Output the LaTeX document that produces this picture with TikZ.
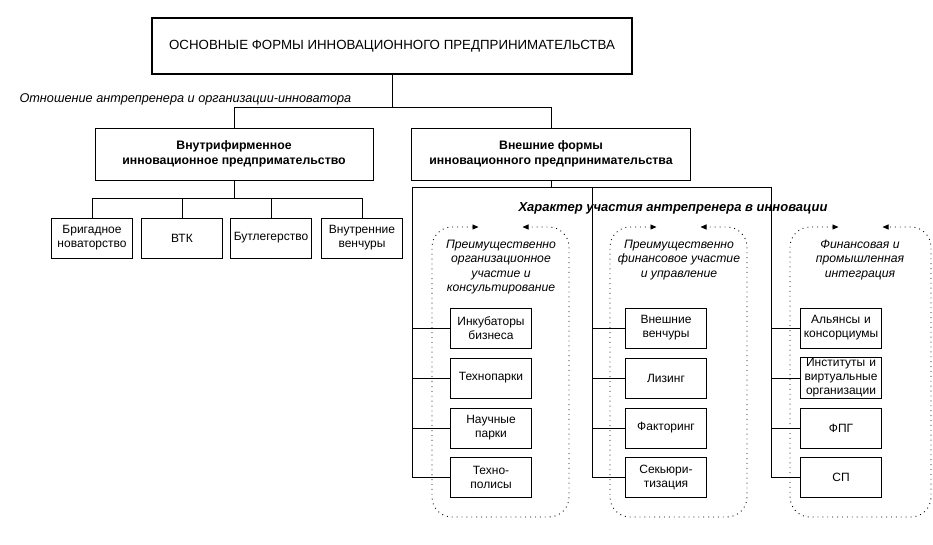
\documentclass[tikz,border=0pt]{standalone}
\usepackage{fontspec}
\setmainfont{Liberation Sans}
\usetikzlibrary{arrows.meta}
\begin{document}
\begin{tikzpicture}[x=1pt,y=-1pt,
  bx/.style={draw,line width=0.9pt,inner sep=1pt,align=center,font=\fontsize{12}{14}\selectfont},
  sm/.style={bx,minimum width=79pt,minimum height=40pt,text width=79pt},
  ln/.style={line width=0.9pt},
  dt/.style={line width=0.9pt,dash pattern=on 0.9pt off 4pt,rounded corners=20pt,{Triangle[length=6pt,width=5pt]}-{Triangle[length=6pt,width=5pt]}},
  it/.style={font=\itshape\fontsize{12.2}{14.5}\selectfont,align=center}]
\useasboundingbox (0,0) rectangle (933,544);
\node[bx,line width=2.4pt,minimum width=480pt,minimum height=56pt,font=\fontsize{13.3}{16}\selectfont] (top) at (392,46) {ОСНОВНЫЕ ФОРМЫ ИННОВАЦИОННОГО ПРЕДПРИНИМАТЕЛЬСТВА};
\node[it,anchor=west,font=\itshape\fontsize{12.7}{15}\selectfont] (rel) at (16,99) {Отношение антрепренера и организации-инноватора};
\node[bx,font=\bfseries\fontsize{12.3}{15}\selectfont,minimum width=278pt,minimum height=52pt] (in) at (234,154) {Внутрифирменное\\инновационное предпримательство};
\node[bx,font=\bfseries\fontsize{12.3}{15}\selectfont,minimum width=279pt,minimum height=52pt] (ex) at (551,154) {Внешние формы\\инновационного предпринимательства};
\coordinate (j1) at (392,107);
\draw[ln] (top.south) -- (j1);
\draw[ln] (in.north) -- (234,107) -- (551,107) -- (ex.north);
\foreach \n/\x/\t in {a/92/{Бригадное\\новаторство},b/182/{ВТК},c/271/{Бутлегерство},d/362/{Внутренние\\венчуры}}{
  \node[sm] (\n) at (\x,238) {\t};
  \draw[ln] (\n.north) -- (\x,198);
}
\draw[ln] (in.south) -- (234,198);
\draw[ln] (92,198) -- (362,198);
\draw[ln] (ex.south) -- (551,187);
\draw[ln] (412,477) -- (412,187) -- (771,187) -- (771,477);
\draw[ln] (592,187) -- (592,477);
\node[font=\bfseries\itshape\fontsize{13}{15}\selectfont] (char) at (673,208) {Характер участия антрепренера в инновации};
\foreach \l/\r in {432/569,610/747,790/931}{
  \pgfmathsetmacro\mid{(\l+\r)/2}
  \draw[dt] (\mid-22,227) -- (\l,227) -- (\l,517) -- (\r,517) -- (\r,227) -- (\mid+22,227);
}
\node[it] (t1) at (501,267) {Преимущественно\\организационное\\участие и\\консультирование};
\node[it] (t2) at (679,260) {Преимущественно\\финансовое участие\\и управление};
\node[it] (t3) at (860,260) {Финансовая и\\промышленная\\интеграция};
\foreach \n/\y/\t in {p1/328/{Инкубаторы\\бизнеса},p2/378/{Технопарки},p3/428/{Научные\\парки},p4/477/{Техно-\\полисы}}{
  \node[sm] (\n) at (491,\y) {\t};
  \draw[ln] (412,\y) -- (\n.west);
}
\foreach \n/\y/\t in {q1/328/{Внешние\\венчуры},q2/378/{Лизинг},q3/428/{Факторинг},q4/477/{Секьюри-\\тизация}}{
  \node[sm] (\n) at (666,\y) {\t};
  \draw[ln] (592,\y) -- (\n.west);
}
\foreach \n/\y/\t in {r1/328/{Альянсы и\\консорциумы},r2/378/{Институты и\\виртуальные\\организации},r3/428/{ФПГ},r4/477/{СП}}{
  \node[sm] (\n) at (841,\y) {\t};
  \draw[ln] (771,\y) -- (\n.west);
}
\end{tikzpicture}
\end{document}
